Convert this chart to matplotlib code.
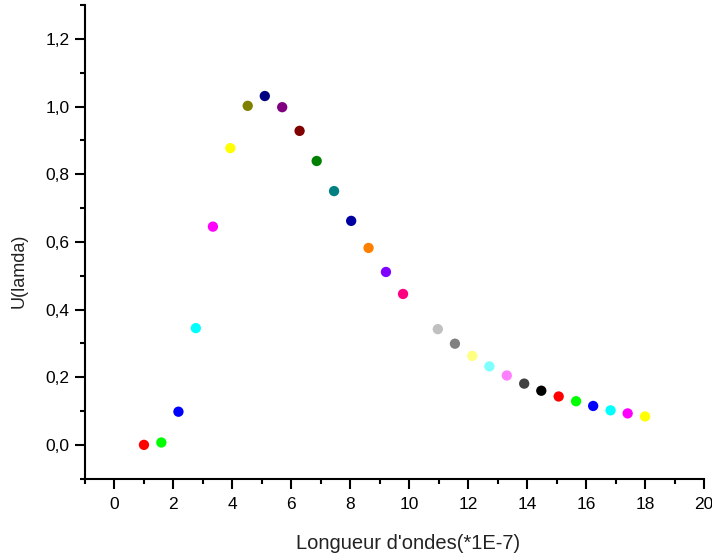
import matplotlib
matplotlib.use("Agg")
import matplotlib.pyplot as plt
from matplotlib.ticker import MultipleLocator, FuncFormatter

plt.rcParams['font.family'] = ['Liberation Sans', 'DejaVu Sans']

# Data
wavelength = [1.00, 1.59, 2.17, 2.76, 3.34, 3.93, 4.52, 5.10, 5.69, 6.28,
              6.86, 7.45, 8.03, 8.62, 9.21, 9.79, 10.38, 10.97, 11.55, 12.14,
              12.72, 13.31, 13.90, 14.48, 15.07, 15.66, 16.24, 16.83, 17.41, 18.00]
u_lamda = [0.000, 0.007, 0.098, 0.345, 0.645, 0.877, 1.002, 1.031, 0.998, 0.928,
           0.839, 0.750, 0.662, 0.582, 0.511, 0.446, 0.392, 0.342, 0.299, 0.263,
           0.232, 0.205, 0.181, 0.160, 0.143, 0.129, 0.115, 0.102, 0.093, 0.084]
# Origin-style colour increment, starting from red
colors = ["#FF0000", "#00FF00", "#0000FF", "#00FFFF", "#FF00FF", "#FFFF00",
          "#808000", "#000080", "#800080", "#800000", "#008000", "#008080",
          "#0000A0", "#FF8000", "#8000FF", "#FF0080", "#FFFFFF", "#C0C0C0",
          "#808080", "#FFFF80", "#80FFFF", "#FF80FF", "#404040", "#000000",
          "#FF0000", "#00FF00", "#0000FF", "#00FFFF", "#FF00FF", "#FFFF00"]

fig = plt.figure(figsize=(7.12, 5.58), dpi=100)
ax = fig.add_axes([85 / 712, 1 - 478.7 / 558, (704 - 85) / 712, (478.7 - 5) / 558])

ax.scatter(wavelength, u_lamda, c=colors, s=55, linewidths=0, zorder=3, clip_on=False)

ax.set_xlim(-1, 20)
ax.set_ylim(-0.1, 1.3)
ax.xaxis.set_major_locator(MultipleLocator(2))
ax.xaxis.set_minor_locator(MultipleLocator(1))
ax.yaxis.set_major_locator(MultipleLocator(0.2))
ax.yaxis.set_minor_locator(MultipleLocator(0.1))
ax.yaxis.set_major_formatter(FuncFormatter(lambda v, p: f"{v:.1f}".replace(".", ",").replace("-0,0", "0,0")))
ax.xaxis.set_major_formatter(FuncFormatter(lambda v, p: f"{v:.0f}"))

for side in ["top", "right"]:
    ax.spines[side].set_visible(False)
for side in ["left", "bottom"]:
    ax.spines[side].set_linewidth(1.5)

ax.tick_params(which="major", direction="out", length=7, width=1.5, labelsize=12.5, colors="#000000")
ax.tick_params(which="minor", direction="out", length=3.5, width=1.5)
ax.tick_params(axis="x", which="major", pad=6)
ax.tick_params(axis="y", which="major", pad=4)

ax.set_xlabel("Longueur d'ondes(*1E-7)", fontsize=14.5, color="#222222")
ax.xaxis.set_label_coords((408 - 85) / (704 - 85), -(553 - 478.7) / (478.7 - 5))
ax.xaxis.label.set_va("bottom")
ax.set_ylabel("U(lamda)", fontsize=13, color="#222222")
ax.yaxis.set_label_coords(-(85 - 28) / (704 - 85), (478.7 - 271) / (478.7 - 5))

fig.savefig("out.png", dpi=100)
